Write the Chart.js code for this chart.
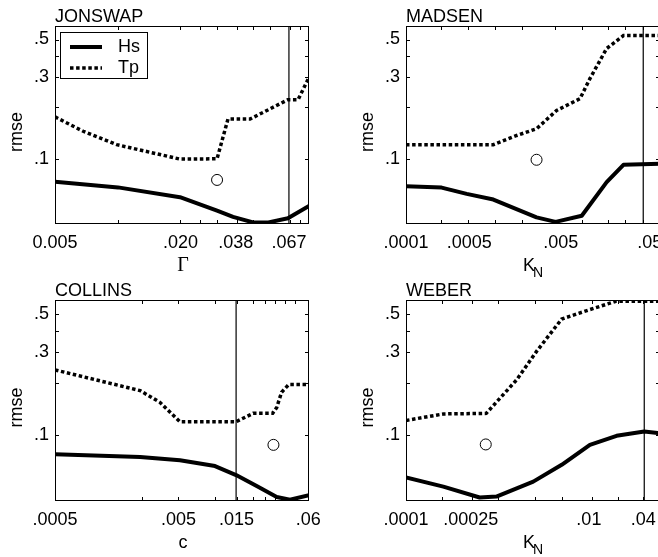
<!DOCTYPE html>
<html lang="en">
<head>
<meta charset="UTF-8">
<title>rmse vs parameter</title>
<script src="https://cdn.jsdelivr.net/npm/chart.js"></script>
<style>
  html, body { margin: 0; padding: 0; background: #fff; overflow: hidden; width: 658px; height: 557px; }
  .panel { position: absolute; }
</style>
</head>
<body>
<canvas id="c1" class="panel" width="330" height="285" style="left:0;top:0"></canvas>
<canvas id="c2" class="panel" width="330" height="285" style="left:351px;top:0"></canvas>
<canvas id="c3" class="panel" width="330" height="283" style="left:0;top:274px"></canvas>
<canvas id="c4" class="panel" width="330" height="283" style="left:351px;top:274px"></canvas>
<script>
// x is position along each parameter axis (0 = left edge, 100 = right edge)
// JONSWAP
const jonTickPos = [0, 49.4, 71.2, 92.1];
const jonTickLab = ['0.005', '.020', '.038', '.067'];
const jonMinor = [24.8, 49.2, 57, 63.8, 71.7, 78, 84.6, 92.5, 96.5];
const jonHsX = [0, 24.8, 49.2, 63.8, 70.1, 78, 84, 91.7, 100];
const jonHsY = [0.0735, 0.068, 0.0596, 0.0497, 0.0457, 0.0424, 0.0424, 0.0448, 0.053];
const jonTpX = [0, 11.1, 24.3, 49.2, 63.8, 68.1, 76.8, 91.7, 95.7, 100];
const jonTpY = [0.176, 0.145, 0.121, 0.0996, 0.100, 0.171, 0.171, 0.222, 0.222, 0.30];
const jonMark = [63.8, 0.0752];
const jonBest = 92.1;

// MADSEN
const madTickPos = [0, 24.9, 60.9, 96];
const madTickLab = ['.0001', '.0005', '.005', '.05'];
const madMinor = [13.8, 24.4, 35, 45.7, 58.7, 69.3, 79.5, 86.2, 93.3];
const madHsX = [0, 14, 23.9, 34.4, 51.4, 58.9, 69.2, 79, 85.6, 100];
const madHsY = [0.069, 0.0678, 0.0623, 0.0577, 0.0454, 0.0427, 0.0464, 0.073, 0.0922, 0.0935];
const madTpX = [0, 34.4, 43.6, 51.4, 59.3, 68.5, 72.4, 79, 85.6, 100];
const madTpY = [0.121, 0.121, 0.137, 0.150, 0.192, 0.225, 0.295, 0.443, 0.527, 0.527];
const madMark = [51.4, 0.0987];
const madBest = 93.4;

// COLLINS
const colTickPos = [0, 48.6, 71.5, 99.7];
const colTickLab = ['.0005', '.005', '.015', '.06'];
const colMinor = [34.1, 48.6, 63, 71.5, 78, 82.7, 86.6, 90.6, 94.5];
const colHsX = [0, 33.5, 49.2, 63, 71.3, 79.4, 87.3, 92.5, 100];
const colHsY = [0.0772, 0.0745, 0.0713, 0.066, 0.0586, 0.0506, 0.0438, 0.0422, 0.0449];
const colTpX = [0, 33.5, 41.3, 49.2, 71.3, 78, 85.7, 87.3, 89.2, 92, 100];
const colTpY = [0.237, 0.180, 0.154, 0.119, 0.119, 0.133, 0.133, 0.144, 0.176, 0.195, 0.195];
const colMark = [86, 0.0875];
const colBest = 71.3;

// WEBER
const webTickPos = [0, 25.5, 72, 93.4];
const webTickLab = ['.0001', '.00025', '.01', '.04'];
const webMinor = [14, 25.8, 36.3, 50.8, 61.3, 73.1, 83.6, 93.4];
const webHsX = [0, 14.7, 29, 35.6, 50.1, 61.3, 72.4, 82.9, 93.8, 100];
const webHsY = [0.0567, 0.0502, 0.0435, 0.044, 0.0537, 0.0671, 0.0875, 0.0987, 0.1045, 0.102];
const webTpX = [0, 14.7, 31.6, 43.6, 51.4, 61.3, 72.4, 82.6, 100];
const webTpY = [0.121, 0.132, 0.133, 0.208, 0.303, 0.466, 0.528, 0.59, 0.59];
const webMark = [31.4, 0.088];
const webBest = 93.8;

const yTickMarks = [0.1, 0.2, 0.3, 0.4, 0.5];
const yTickLabelled = [0.1, 0.3, 0.5];
const Y_MIN = 0.0415, Y_MAX = 0.6;

const SANS = '"Liberation Sans", Arial, Helvetica, sans-serif';

function pairs(xs, ys) {
  return xs.map((x, i) => ({ x: x, y: ys[i] }));
}

// frame, inward ticks, panel name, axis labels and legend
const panelDecor = {
  id: 'panelDecor',
  afterDraw(chart, args, o) {
    const ctx = chart.ctx, a = chart.chartArea;
    const xs = chart.scales.x, ys = chart.scales.y;
    ctx.save();
    ctx.strokeStyle = '#000';
    ctx.lineWidth = 1;
    ctx.strokeRect(Math.round(a.left) + 0.5, Math.round(a.top) + 0.5,
                   Math.round(a.right - a.left) - 1, Math.round(a.bottom - a.top) - 1);
    ctx.beginPath();
    o.minor.forEach(u => {
      const px = Math.round(xs.getPixelForValue(u)) + 0.5;
      ctx.moveTo(px, a.top); ctx.lineTo(px, a.top + 4);
      ctx.moveTo(px, a.bottom); ctx.lineTo(px, a.bottom - 4);
    });
    yTickMarks.forEach(v => {
      const py = Math.round(ys.getPixelForValue(v)) + 0.5;
      ctx.moveTo(a.left, py); ctx.lineTo(a.left + 4, py);
      ctx.moveTo(a.right, py); ctx.lineTo(a.right - 4, py);
    });
    ctx.stroke();

    ctx.fillStyle = '#000';
    ctx.font = '18px ' + SANS;
    ctx.textAlign = 'left';
    ctx.textBaseline = 'alphabetic';
    ctx.fillText(o.name, a.left, a.top - 4);

    // y title
    ctx.save();
    ctx.translate(17, (a.top + a.bottom) / 2 + 7);
    ctx.rotate(-Math.PI / 2);
    ctx.textAlign = 'center';
    ctx.textBaseline = 'middle';
    ctx.font = '18px ' + SANS;
    ctx.fillText('rmse', 0, 0);
    ctx.restore();

    // x title
    const cx = (a.left + a.right) / 2, base = a.bottom + 47;
    ctx.font = o.xFont;
    const w1 = ctx.measureText(o.xTitle).width;
    let w2 = 0;
    if (o.xSub) {
      ctx.font = '14px ' + SANS;
      w2 = ctx.measureText(o.xSub).width;
    }
    const x0 = cx - (w1 + w2 - 2) / 2;
    ctx.font = o.xFont;
    ctx.fillText(o.xTitle, x0, base);
    if (o.xSub) {
      ctx.font = '14px ' + SANS;
      ctx.fillText(o.xSub, x0 + w1 - 2, base + 6);
    }

    // legend
    if (o.legend) {
      const lx = Math.round(a.left) + 5, ly = Math.round(a.top) + 6;
      ctx.fillStyle = '#fff';
      ctx.fillRect(lx, ly, 87, 46);
      ctx.strokeRect(lx + 0.5, ly + 0.5, 87, 46);
      ctx.fillStyle = '#000';
      ctx.font = '18px ' + SANS;
      ctx.textBaseline = 'middle';
      chart.data.datasets.filter(d => d.label).forEach((d, i) => {
        const y = ly + 15 + i * 21;
        ctx.beginPath();
        ctx.setLineDash(d.borderDash || []);
        ctx.lineWidth = d.borderWidth;
        ctx.lineCap = 'butt';
        ctx.moveTo(lx + 10, y); ctx.lineTo(lx + 42, y);
        ctx.stroke();
        ctx.setLineDash([]);
        ctx.lineWidth = 1;
        ctx.fillText(d.label, lx + 58, y);
      });
    }
    ctx.restore();
  }
};

function makePanel(id, p) {
  new Chart(document.getElementById(id), {
    type: 'line',
    data: {
      datasets: [
        { label: 'Hs', data: pairs(p.hsX, p.hsY), borderColor: '#000', borderWidth: 4,
          borderJoinStyle: 'round', pointRadius: 0, tension: 0, clip: 0 },
        { label: 'Tp', data: pairs(p.tpX, p.tpY), borderColor: '#000', borderWidth: 3.5,
          borderDash: [3.5, 2.6], borderCapStyle: 'butt', pointRadius: 0, tension: 0, clip: 0 },
        { data: [{ x: p.best, y: Y_MIN }, { x: p.best, y: Y_MAX }], borderColor: '#000',
          borderWidth: 1.2, pointRadius: 0, clip: 0 },
        { data: [{ x: p.mark[0], y: p.mark[1] }], showLine: false, pointRadius: 5.5,
          pointBorderWidth: 1, pointBorderColor: '#000', pointBackgroundColor: 'rgba(0,0,0,0)' }
      ]
    },
    options: {
      responsive: false,
      animation: false,
      devicePixelRatio: 1,
      layout: { padding: { top: 26, right: 21, left: 0, bottom: 0 } },
      plugins: {
        legend: { display: false },
        tooltip: { enabled: false },
        panelDecor: { name: p.name, xTitle: p.xTitle, xSub: p.xSub, xFont: p.xFont,
                      minor: p.minor, legend: p.legend }
      },
      scales: {
        x: {
          type: 'linear', min: 0, max: 100,
          grid: { display: false, drawTicks: false },
          border: { display: false },
          afterBuildTicks: s => { s.ticks = p.tickPos.map(v => ({ value: v })); },
          afterFit: s => { s.height = p.axisH; s.paddingLeft = 0; s.paddingRight = 0; },
          ticks: { autoSkip: false, maxRotation: 0, padding: 8, color: '#000',
                   font: { family: SANS, size: 18 },
                   callback: (v, i) => p.tickLab[i] }
        },
        y: {
          type: 'logarithmic', min: Y_MIN, max: Y_MAX,
          grid: { display: false, drawTicks: false },
          border: { display: false },
          afterBuildTicks: s => { s.ticks = yTickLabelled.map(v => ({ value: v })); },
          afterFit: s => { s.width = 55; },
          ticks: { padding: 6, color: '#000', font: { family: SANS, size: 18 },
                   callback: v => String(v).replace(/^0/, '') }
        }
      }
    },
    plugins: [panelDecor]
  });
}

makePanel('c1', { name: 'JONSWAP', xTitle: '\u0393', xFont: '20px "Liberation Serif", "Times New Roman", serif',
  tickPos: jonTickPos, tickLab: jonTickLab, minor: jonMinor, hsX: jonHsX, hsY: jonHsY,
  tpX: jonTpX, tpY: jonTpY, mark: jonMark, best: jonBest, axisH: 61, legend: true });
makePanel('c2', { name: 'MADSEN', xTitle: 'K', xSub: 'N', xFont: '18px ' + SANS,
  tickPos: madTickPos, tickLab: madTickLab, minor: madMinor, hsX: madHsX, hsY: madHsY,
  tpX: madTpX, tpY: madTpY, mark: madMark, best: madBest, axisH: 61 });
makePanel('c3', { name: 'COLLINS', xTitle: 'c', xFont: '18px ' + SANS,
  tickPos: colTickPos, tickLab: colTickLab, minor: colMinor, hsX: colHsX, hsY: colHsY,
  tpX: colTpX, tpY: colTpY, mark: colMark, best: colBest, axisH: 56 });
makePanel('c4', { name: 'WEBER', xTitle: 'K', xSub: 'N', xFont: '18px ' + SANS,
  tickPos: webTickPos, tickLab: webTickLab, minor: webMinor, hsX: webHsX, hsY: webHsY,
  tpX: webTpX, tpY: webTpY, mark: webMark, best: webBest, axisH: 56 });
</script>
</body>
</html>
